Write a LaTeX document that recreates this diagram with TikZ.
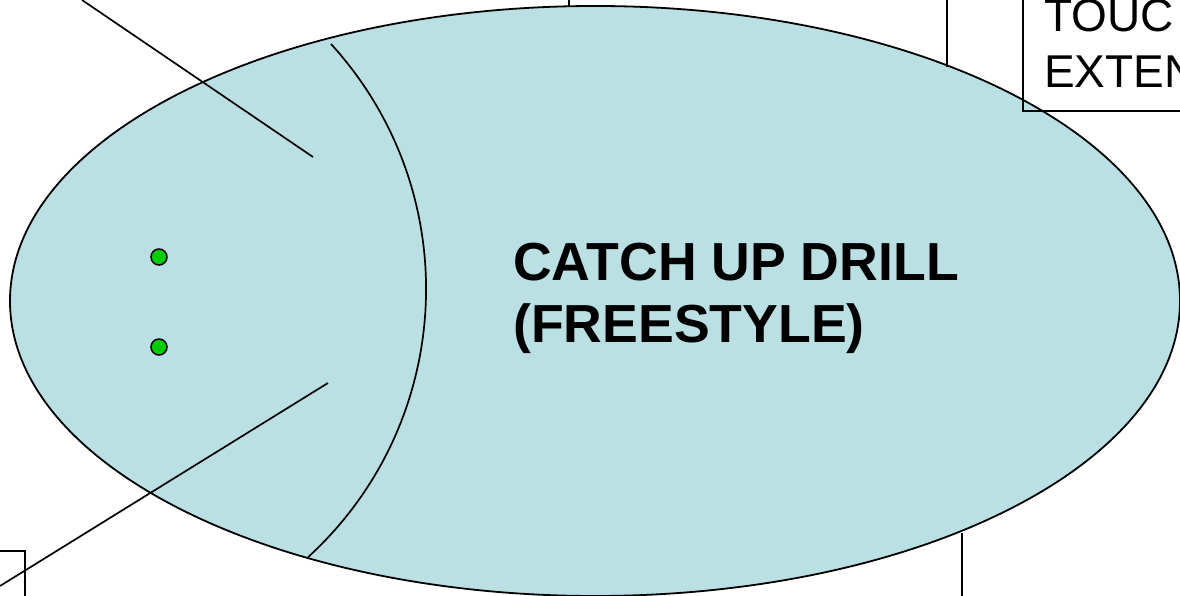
\documentclass[tikz,border=0pt]{standalone}
\usepackage{fontspec}
\setmainfont{Liberation Sans}
\definecolor{poolblue}{RGB}{187,224,227}
\definecolor{dotgreen}{RGB}{0,204,0}
\begin{document}
\begin{tikzpicture}[x=1pt,y=1pt,
  outline/.style={draw=black,line width=1.8pt},
  callout/.style={draw=black,line width=1.7pt},
  swimmer/.style={circle,draw=black,line width=1.5pt,fill=dotgreen,minimum size=16pt,inner sep=0pt},
  title/.style={inner sep=0pt,anchor=base west,font=\fontsize{53.6}{62}\selectfont\bfseries},
  boxtext/.style={inner sep=0pt,anchor=base west,font=\fontsize{46}{56}\selectfont}]
\useasboundingbox (0,0) rectangle (1180,596);
\clip (0,0) rectangle (1180,596);
% pool
\draw[outline,fill=poolblue] (595,295) ellipse [x radius=585, y radius=295];
% dividing arc
\coordinate (arcstart) at (331,552);
\draw[callout] (arcstart) arc [start angle=42.4, end angle=-47.5, radius=363.5];
% swimmers
\node[swimmer] (s1) at (159,339) {};
\node[swimmer] (s2) at (159,249) {};
% title
\node[title] (t1) at (513,315) {CATCH UP DRILL};
\node[title] (t2) at (513,253) {(FREESTYLE)};
% top-right box
\draw[callout] (1023,620) |- (1200,485);
\node[boxtext] (b1) at (1044,564) {TOUC};
\node[boxtext] (b2) at (1044,508) {EXTEN};
% bottom-left box
\draw[callout] (-20,45) -| (25,-20);
% callout lines
\coordinate (ul0) at (82,596);
\coordinate (ul1) at (313,439);
\draw[callout] (ul0) -- (ul1);
\coordinate (bl0) at (0,10);
\coordinate (bl1) at (328,213);
\draw[callout] (bl0) -- (bl1);
\coordinate (tm0) at (569,596);
\coordinate (tm1) at (569,589);
\draw[callout] (tm0) -- (tm1);
\coordinate (tr0) at (947,596);
\coordinate (tr1) at (947,529);
\draw[callout] (tr0) -- (tr1);
\coordinate (br0) at (962,0);
\coordinate (br1) at (962,63);
\draw[callout] (br0) -- (br1);
\end{tikzpicture}
\end{document}
